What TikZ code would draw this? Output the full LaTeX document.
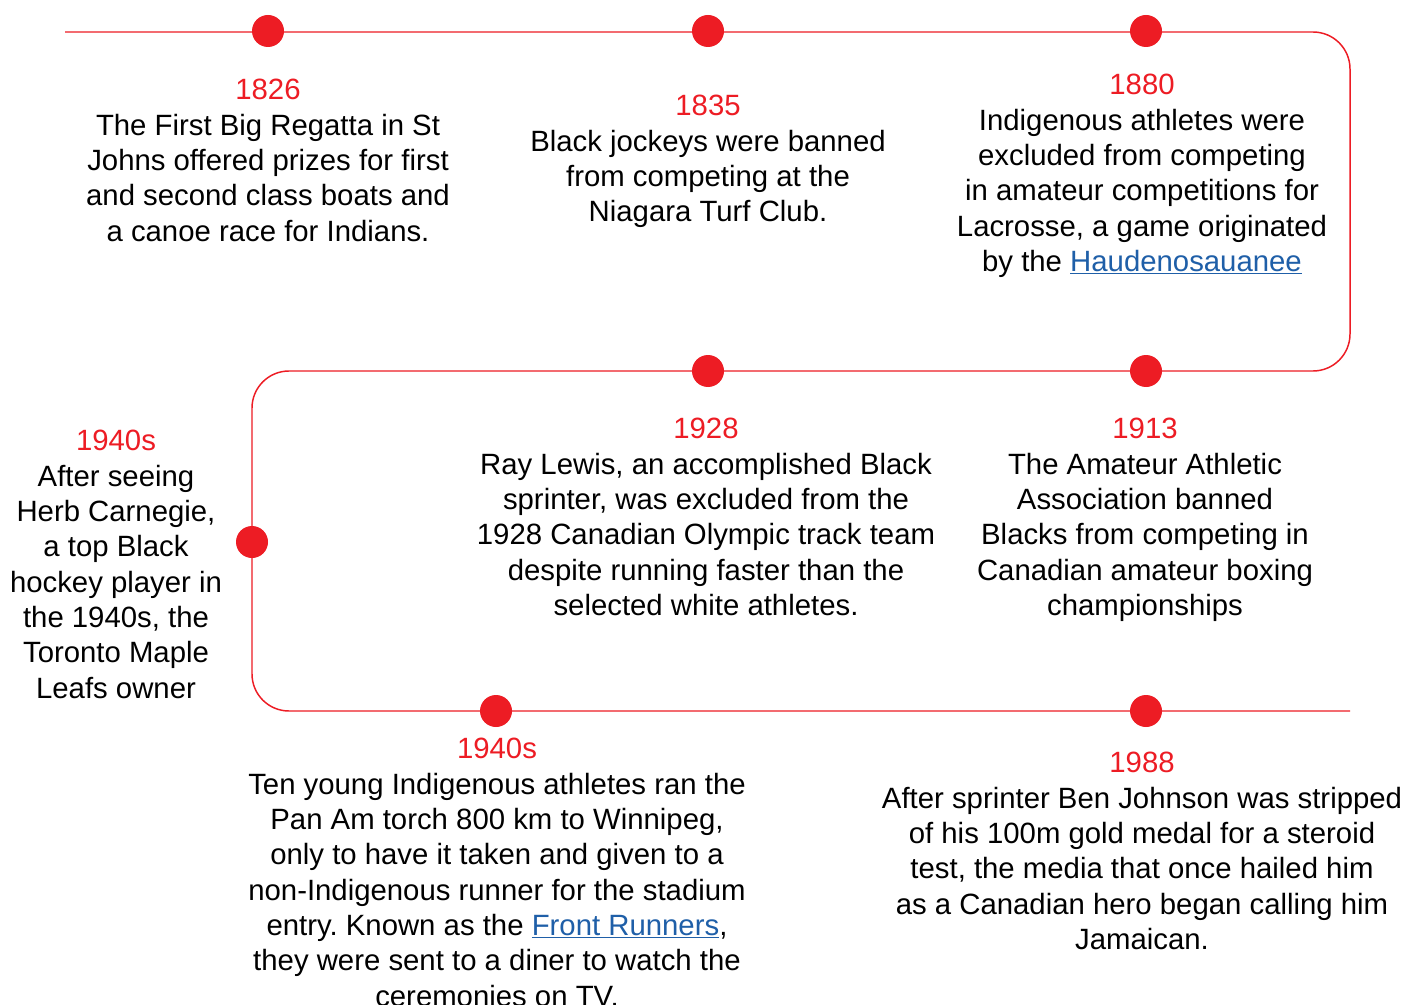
\documentclass[tikz,border=0pt]{standalone}
\usepackage{fontspec}
\setmainfont{Liberation Sans}
\frenchspacing
\definecolor{tred}{HTML}{ED1C24}
\definecolor{linkblue}{HTML}{1F5FA8}
\newcommand{\lnk}[1]{\textcolor{linkblue}{\underline{#1}}}
\newcommand{\yr}[1]{\textcolor{tred}{#1}}
\begin{document}
\begin{tikzpicture}[x=0.75pt,y=-0.75pt,
  dot/.style={circle,fill=tred,inner sep=0pt,minimum size=24pt},
  tline/.style={draw=tred,line width=1.1pt,rounded corners=27.75pt},
  evt/.style={anchor=north,inner sep=0pt,align=center,font=\fontsize{22}{26.5}\selectfont}]
\useasboundingbox (0,0) rectangle (1405,1005);
\fill[white] (0,0) rectangle (1405,1005);
% path
\coordinate (start) at (65,32);
\coordinate (c1) at (1350,32);
\coordinate (c2) at (1350,371);
\coordinate (c3) at (252,371);
\coordinate (c4) at (252,711);
\coordinate (finish) at (1350,711);
\draw[tline] (start) -- (c1) -- (c2) -- (c3) -- (c4) -- (finish);
% dots
\node[dot] (d1826) at (268,31) {};
\node[dot] (d1835) at (708,31) {};
\node[dot] (d1880) at (1146,31) {};
\node[dot] (d1913) at (1146,371) {};
\node[dot] (d1928) at (708,371) {};
\node[dot] (d1940a) at (252,542) {};
\node[dot] (d1940b) at (496,711) {};
\node[dot] (d1988) at (1146,711) {};
% texts
\node[evt] (t1826) at (268,79) {\yr{1826}\\The First Big Regatta in St\\Johns offered prizes for first\\and second class boats and\\a canoe race for Indians.};
\node[evt] (t1835) at (708,95) {\yr{1835}\\Black jockeys were banned\\from competing at the\\Niagara Turf Club.};
\node[evt] (t1880) at (1142,74) {\yr{1880}\\Indigenous athletes were\\excluded from competing\\in amateur competitions for\\Lacrosse, a game originated\\by the \lnk{Haudenosauanee}};
\node[evt] (t1928) at (706,418) {\yr{1928}\\Ray Lewis, an accomplished Black\\sprinter, was excluded from the\\1928 Canadian Olympic track team\\despite running faster than the\\selected white athletes.};
\node[evt] (t1913) at (1145,418) {\yr{1913}\\The Amateur Athletic\\Association banned\\Blacks from competing in\\Canadian amateur boxing\\championships};
\node[evt] (t1940a) at (116,430) {\yr{1940s}\\After seeing\\Herb Carnegie,\\a top Black\\hockey player in\\the 1940s, the\\Toronto Maple\\Leafs owner};
\node[evt] (t1940b) at (497,738) {\yr{1940s}\\Ten young Indigenous athletes ran the\\Pan Am torch 800 km to Winnipeg,\\only to have it taken and given to a\\non-Indigenous runner for the stadium\\entry. Known as the \lnk{Front Runners},\\they were sent to a diner to watch the\\ceremonies on TV.};
\node[evt] (t1988) at (1142,752) {\yr{1988}\\After sprinter Ben Johnson was stripped\\of his 100m gold medal for a steroid\\test, the media that once hailed him\\as a Canadian hero began calling him\\Jamaican.};
\end{tikzpicture}
\end{document}
